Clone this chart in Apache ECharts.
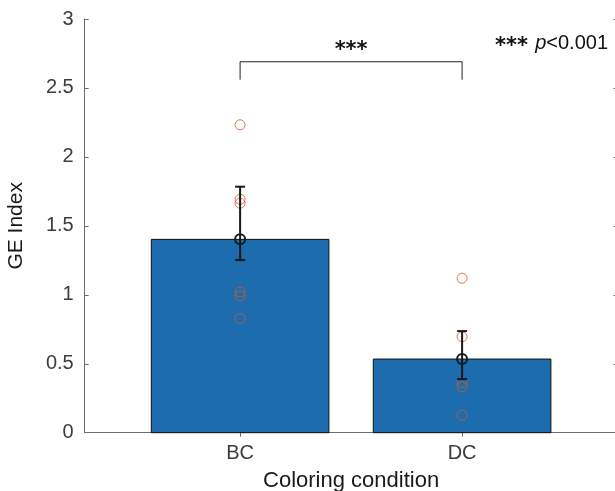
<!DOCTYPE html>
<html>
<head>
<meta charset="utf-8">
<script src="https://cdn.jsdelivr.net/npm/echarts@6/dist/echarts.min.js"></script>
<style>
  html, body { margin: 0; padding: 0; background: #fff; }
  #chart { width: 615px; height: 491px; }
</style>
</head>
<body>
<div id="chart"></div>
<script>
// Group labels and their positions on the x scale
const categories = ['BC', 'DC'];
const categoryX = [1, 2];

// Group means (bar heights)
const meanValues = [1.402, 0.534];
// Error bar extents (lower, upper)
const errLower = [1.252, 0.389];
const errUpper = [1.784, 0.737];

// Individual subject values per group
const pointsBC = [2.233, 1.693, 1.664, 1.020, 0.991, 0.827];
const pointsDC = [1.120, 0.696, 0.363, 0.334, 0.126];

// Y tick labels
const yTicks = [0, 0.5, 1, 1.5, 2, 2.5, 3];

// Significance annotation
const sigLabel = '***';
const sigNote = 'p<0.001';

const axisGray = '#6e6e6e';
const tickText = '#3c3c3c';
const barBlue = '#1c6cae';
const dotOrange = '#d9572b';
const font = 'Liberation Sans, Arial, Helvetica, sans-serif';

const chart = echarts.init(document.getElementById('chart'), null, { renderer: 'canvas' });

const scatterData = [];
pointsBC.forEach(v => scatterData.push([categoryX[0], v]));
pointsDC.forEach(v => scatterData.push([categoryX[1], v]));

const barData = categoryX.map((x, i) => [x, meanValues[i]]);
const errData = categoryX.map((x, i) => [x, errLower[i], errUpper[i], meanValues[i]]);

// bracket levels on the y scale
const bracketTop = 2.69;
const bracketFoot = 2.56;
const sigTextY = 2.77;

const option = {
  animation: false,
  grid: { left: 84.7, top: 19, width: 532.8, height: 413.7, containLabel: false, outerBoundsMode: 'none' },
  xAxis: [{
    type: 'value', min: 0.3, max: 2.7, position: 'bottom',
    name: 'Coloring condition', nameLocation: 'middle', nameGap: 37,
    nameTextStyle: { fontFamily: font, fontSize: 22, color: '#1a1a1a' },
    axisLine: { show: true, onZero: false, lineStyle: { color: axisGray, width: 1 } },
    axisTick: { show: true, inside: true, length: 4, customValues: categoryX, lineStyle: { color: axisGray } },
    axisLabel: { show: true, customValues: categoryX, margin: 11, fontFamily: font, fontSize: 20, color: tickText,
      formatter: v => categories[categoryX.indexOf(Math.round(v))] || '' },
    splitLine: { show: false }
  }, {
    type: 'value', min: 0.3, max: 2.7, position: 'top',
    axisLine: { show: true, lineStyle: { color: axisGray, width: 1 } },
    axisTick: { show: true, inside: true, length: 4, customValues: categoryX, lineStyle: { color: axisGray } },
    axisLabel: { show: false }, splitLine: { show: false }
  }],
  yAxis: [{
    type: 'value', min: 0, max: 3, interval: 0.5, position: 'left',
    name: 'GE Index', nameLocation: 'middle', nameGap: 58,
    nameTextStyle: { fontFamily: font, fontSize: 21, color: '#1a1a1a' },
    axisLine: { show: true, lineStyle: { color: axisGray, width: 1 } },
    axisTick: { show: true, inside: true, length: 4, lineStyle: { color: axisGray } },
    axisLabel: { margin: 11, fontFamily: font, fontSize: 20, color: tickText,
      formatter: v => yTicks.indexOf(v) >= 0 ? String(v) : '' },
    splitLine: { show: false }
  }, {
    type: 'value', min: 0, max: 3, interval: 0.5, position: 'right',
    axisLine: { show: true, lineStyle: { color: axisGray, width: 1 } },
    axisTick: { show: true, inside: true, length: 4, lineStyle: { color: axisGray } },
    axisLabel: { show: false }, splitLine: { show: false }
  }],
  series: [
    {
      // bars, 0.8 units wide
      type: 'custom', xAxisIndex: 0, yAxisIndex: 0, z: 2,
      data: barData,
      renderItem: (params, api) => {
        const x = api.value(0), v = api.value(1);
        const p0 = api.coord([x - 0.4, v]);
        const p1 = api.coord([x + 0.4, 0]);
        return {
          type: 'rect',
          shape: { x: p0[0], y: p0[1], width: p1[0] - p0[0], height: p1[1] - p0[1] },
          style: { fill: barBlue, stroke: '#111', lineWidth: 1 }
        };
      }
    },
    {
      // individual values
      type: 'scatter', xAxisIndex: 0, yAxisIndex: 0, z: 3,
      data: scatterData, symbol: 'circle', symbolSize: 10,
      itemStyle: { color: 'rgba(0,0,0,0)', borderColor: dotOrange, borderWidth: 1 }
    },
    {
      // error bars with mean marker
      type: 'custom', xAxisIndex: 0, yAxisIndex: 0, z: 4,
      data: errData,
      renderItem: (params, api) => {
        const x = api.value(0);
        const lo = api.coord([x, api.value(1)]);
        const hi = api.coord([x, api.value(2)]);
        const mid = api.coord([x, api.value(3)]);
        const cap = 5;
        const s = { stroke: '#1a1a1a', lineWidth: 2, fill: null };
        return {
          type: 'group',
          children: [
            { type: 'line', shape: { x1: lo[0], y1: lo[1], x2: hi[0], y2: hi[1] }, style: s },
            { type: 'line', shape: { x1: lo[0] - cap, y1: lo[1], x2: lo[0] + cap, y2: lo[1] }, style: s },
            { type: 'line', shape: { x1: hi[0] - cap, y1: hi[1], x2: hi[0] + cap, y2: hi[1] }, style: s },
            { type: 'circle', shape: { cx: mid[0], cy: mid[1], r: 5 }, style: { stroke: '#1a1a1a', lineWidth: 2, fill: 'rgba(0,0,0,0)' } }
          ]
        };
      }
    },
    {
      // significance bracket between the two groups
      type: 'custom', xAxisIndex: 0, yAxisIndex: 0, z: 5,
      data: [[categoryX[0], categoryX[1]]],
      renderItem: (params, api) => {
        const a = api.value(0), b = api.value(1);
        const p1 = api.coord([a, bracketFoot]);
        const p2 = api.coord([a, bracketTop]);
        const p3 = api.coord([b, bracketTop]);
        const p4 = api.coord([b, bracketFoot]);
        const t = api.coord([(a + b) / 2, sigTextY]);
        return {
          type: 'group',
          children: [
            { type: 'polyline', shape: { points: [p1, p2, p3, p4] }, style: { stroke: '#222', lineWidth: 1, fill: null } },
            { type: 'text', x: t[0], y: t[1], style: { text: sigLabel, font: 'bold 21px DejaVu Sans', fill: '#111', align: 'center', verticalAlign: 'middle' } }
          ]
        };
      }
    }
  ],
  graphic: [{
    // significance key: stars
    type: 'text', x: 495, y: 47,
    style: { text: sigLabel, font: 'bold 21px DejaVu Sans', fill: '#111', align: 'left', verticalAlign: 'middle' }
  }, {
    // significance key: threshold
    type: 'text', right: 7, top: 33,
    style: {
      text: '{p|p}{r|' + sigNote.slice(1) + '}',
      rich: {
        p: { font: 'italic 20px Liberation Sans', fill: '#111' },
        r: { font: '20px Liberation Sans', fill: '#111' }
      }
    }
  }]
};

chart.setOption(option);
</script>
</body>
</html>
